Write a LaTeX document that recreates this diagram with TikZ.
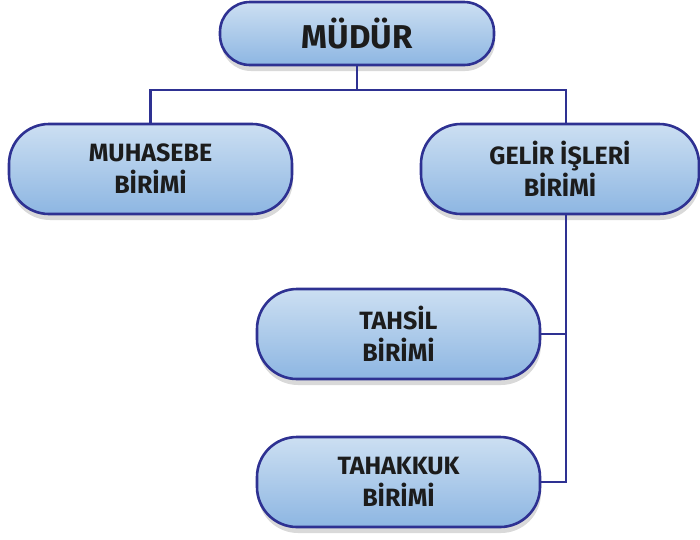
\documentclass[tikz,border=0pt]{standalone}
\usepackage{fontspec}
\setmainfont{Fira Sans}
\usetikzlibrary{shadows}
\definecolor{kenar}{HTML}{2E3192}
\definecolor{ustmavi}{HTML}{CCDFF2}
\definecolor{altmavi}{HTML}{8DB6E2}
\definecolor{yazi}{HTML}{1C1C1C}
\tikzset{
  birim/.style={draw=kenar, line width=2.6pt, rounded corners=40pt,
    top color=ustmavi, bottom color=altmavi, text=yazi,
    font=\fontsize{25}{32}\selectfont\bfseries, align=center,
    minimum width=283pt, minimum height=90pt, inner sep=0pt,
    drop shadow={opacity=0.3, shadow xshift=1pt, shadow yshift=-6pt}},
  hat/.style={draw=kenar, line width=2.6pt}
}
\begin{document}
\begin{tikzpicture}[x=1pt, y=-1pt]
  \useasboundingbox (0,0) rectangle (700,539);
  % teşkilat şeması
  \node[birim, minimum width=274pt, minimum height=63pt, rounded corners=30pt,
        font=\fontsize{33}{34}\selectfont\bfseries] (mudur) at (357,33.5) {MÜDÜR};
  \node[birim] (muhasebe) at (150.5,169) {MUHASEBE\\BİRİMİ};
  \node[birim, minimum width=278pt] (gelir) at (560,169) {GELİR İŞLERİ\\BİRİMİ};
  \node[birim] (tahsil) at (398.5,334) {TAHSİL\\BİRİMİ};
  \node[birim] (tahakkuk) at (398.5,482) {TAHAKKUK\\BİRİMİ};

  \coordinate (k1) at (357,90);
  \coordinate (k2) at (566,214);
  \draw[hat] (mudur.south) -- (k1);
  \draw[hat] (muhasebe.north) |- (k1) -| (k2 |- gelir.north);
  \draw[hat] (k2) |- (tahakkuk.east);
  \draw[hat] (tahsil.east) -- (k2 |- tahsil.east);
\end{tikzpicture}
\end{document}
